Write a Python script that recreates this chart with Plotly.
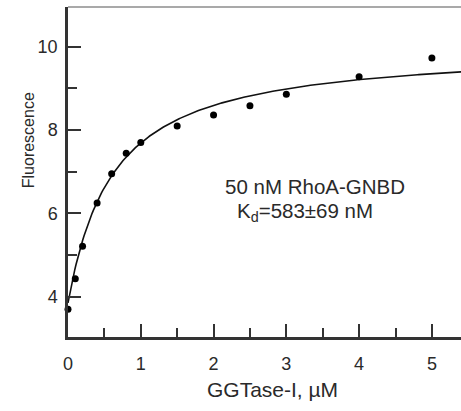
import numpy as np
import plotly.graph_objects as go

# GGTase-I titration of 50 nM RhoA-GNBD
ggtase_uM = [0.0, 0.1, 0.2, 0.4, 0.6, 0.8, 1.0, 1.5, 2.0, 2.5, 3.0, 4.0, 5.0]
fluorescence = [3.70, 4.43, 5.21, 6.25, 6.95, 7.44, 7.70, 8.10, 8.36, 8.58, 8.86, 9.28, 9.73]

# Quadratic binding fit parameters
kd_uM = 0.583
probe_uM = 0.050
f0 = 3.85
df = 6.15

x_ticks = [0, 1, 2, 3, 4, 5]
y_ticks = [4, 6, 8, 10]
y_minor = [5, 7, 9]

xf = np.linspace(0, 5.5, 300)
s = probe_uM + xf + kd_uM
bound = (s - np.sqrt(s * s - 4 * probe_uM * xf)) / (2 * probe_uM)
fit = f0 + df * bound

FONT = "Liberation Sans, Arial, sans-serif"
AX = "#333333"
TXT = "#2a2a2a"

fig = go.Figure()
fig.add_trace(go.Scatter(x=xf, y=fit, mode="lines",
                         line=dict(color="#111111", width=1.6),
                         hoverinfo="skip", showlegend=False))
fig.add_trace(go.Scatter(x=ggtase_uM, y=fluorescence, mode="markers",
                         marker=dict(color="#000000", size=7),
                         showlegend=False, cliponaxis=False))

# fit annotation
fig.add_annotation(x=0.394, y=0.457, xref="paper", yref="paper",
                   text="50 nM RhoA-GNBD", showarrow=False,
                   font=dict(family=FONT, size=20.5, color=TXT),
                   xanchor="left", yanchor="middle")
fig.add_annotation(x=0.425, y=0.378, xref="paper", yref="paper",
                   text="K<sub>d</sub>=583±69 nM", showarrow=False,
                   font=dict(family=FONT, size=20.5, color=TXT),
                   xanchor="left", yanchor="middle")

# axis titles
fig.add_annotation(x=0.52, y=-0.16, xref="paper", yref="paper",
                   text="GGTase-I, µM", showarrow=False,
                   font=dict(family=FONT, size=21, color=TXT),
                   xanchor="center", yanchor="middle")
fig.add_annotation(x=-0.102, y=0.596, xref="paper", yref="paper",
                   text="Fluorescence", showarrow=False, textangle=-90,
                   font=dict(family=FONT, size=16, color=TXT),
                   xanchor="center", yanchor="middle")

# thin top frame line
fig.add_shape(type="line", xref="paper", yref="paper", x0=0, x1=1, y0=1, y1=1,
              line=dict(color="#555555", width=1.2))

fig.update_layout(
    width=461, height=411,
    margin=dict(l=68, r=0, t=7, b=74),
    paper_bgcolor="white", plot_bgcolor="white",
    font=dict(family=FONT, size=18, color=TXT),
    xaxis=dict(range=[0, 5.40], tickvals=x_ticks, ticks="inside", ticklen=13,
               tickwidth=1.5, tickcolor=AX, showline=True, linecolor=AX,
               linewidth=2.5, showgrid=False, zeroline=False,
               minor=dict(dtick=0.5, ticks="inside", ticklen=9, tickwidth=1.5,
                          tickcolor=AX, showgrid=False),
               tickfont=dict(size=18), ticklabelstandoff=9),
    yaxis=dict(range=[3.033, 10.953], tickvals=y_ticks, ticks="inside", ticklen=13,
               tickwidth=1.5, tickcolor=AX, showline=True, linecolor=AX,
               linewidth=2.5, showgrid=False, zeroline=False,
               minor=dict(tickvals=y_minor, ticks="inside", ticklen=9, tickwidth=1.5,
                          tickcolor=AX, showgrid=False),
               tickfont=dict(size=18), ticklabelstandoff=4),
)

fig.write_html("out.html")
